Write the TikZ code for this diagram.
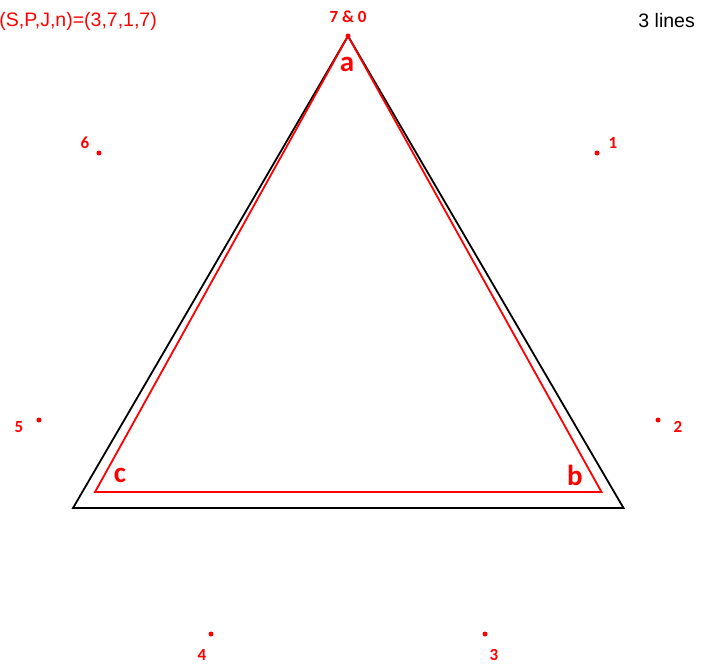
\documentclass[tikz,border=0pt]{standalone}
\usepackage{fontspec}
\setmainfont{Liberation Sans}
\newfontfamily\lblfont{Carlito}
\definecolor{myred}{RGB}{255,0,0}
\begin{document}
\begin{tikzpicture}[x=1pt,y=-1pt,
  dot/.style={circle,fill=myred,inner sep=0pt,minimum size=5pt},
  numlbl/.style={text=myred,font=\lblfont\bfseries\fontsize{17}{17}\selectfont,inner sep=0pt},
  vlbl/.style={text=myred,font=\lblfont\bfseries\fontsize{29}{29}\selectfont,inner sep=0pt},
  black tri/.style={draw=black,line width=1.8pt,line join=miter},
  red tri/.style={draw=myred,line width=1.8pt,line join=miter}]
\useasboundingbox (0,0) rectangle (712,665);
% black triangle
\coordinate (A) at (348,36);
\coordinate (B) at (623.5,508);
\coordinate (C) at (73,508);
\draw[black tri] (A) -- (B) -- (C) -- cycle;
% red triangle
\coordinate (a) at (348,36);
\coordinate (b) at (601.5,492);
\coordinate (c) at (95,492);
\draw[red tri] (a) -- (b) -- (c) -- cycle;
% dots
\node[dot] (p0) at (348,36) {};
\node[dot] (p1) at (597,153) {};
\node[dot] (p2) at (658,420) {};
\node[dot] (p3) at (485,634) {};
\node[dot] (p4) at (211,634) {};
\node[dot] (p5) at (39,420) {};
\node[dot] (p6) at (99,153) {};
% number labels
\node[numlbl] (l0) at (348,17) {7 \& 0};
\node[numlbl] (l1) at (613,143) {1};
\node[numlbl] (l2) at (678,427) {2};
\node[numlbl] (l3) at (494,655) {3};
\node[numlbl] (l4) at (202,655) {4};
\node[numlbl] (l5) at (19,427) {5};
\node[numlbl] (l6) at (85,143) {6};
% vertex labels
\node[vlbl] (la) at (347,64) {a};
\node[vlbl] (lb) at (575,475) {b};
\node[vlbl] (lc) at (120,475) {c};
% texts
\node[anchor=east,text=myred,font=\fontsize{19.5}{19.5}\selectfont,inner sep=0pt] (params) at (157,21) {(S,P,J,n)=(3,7,1,7)};
\node[anchor=east,text=black,font=\fontsize{19.5}{19.5}\selectfont,inner sep=0pt] (lines) at (695,21) {3 lines};
\end{tikzpicture}
\end{document}
